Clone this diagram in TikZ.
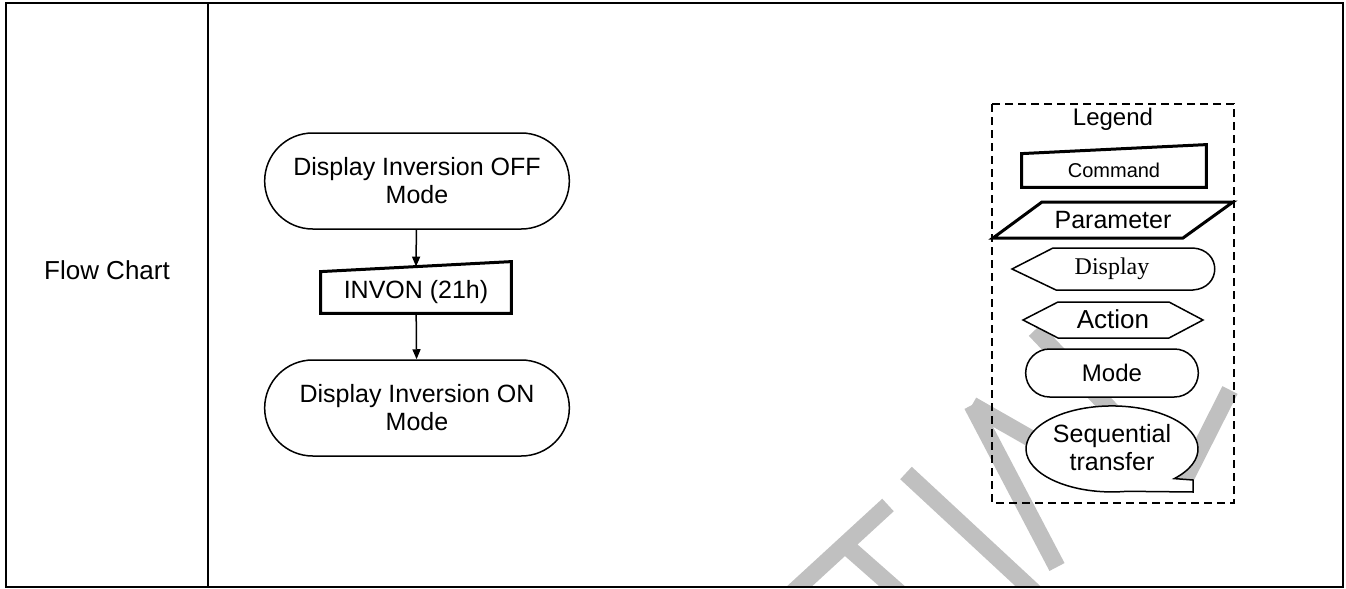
\documentclass[tikz,border=0pt]{standalone}
\usepackage{fontspec}
\setmainfont{Liberation Sans}
\newfontfamily\dispfont{Liberation Serif}
\usetikzlibrary{shapes.misc,arrows.meta}
\definecolor{wmgray}{RGB}{192,192,192}

\begin{document}
\begin{tikzpicture}
 [x=0.5pt, y=0.5pt,
  mode node/.style={rounded rectangle, draw, fill=white, line width=0.75pt, minimum width=159pt, minimum height=48pt, align=center, font=\fontsize{12.5}{14}\selectfont},
  text node/.style={inner sep=0pt, align=center, font=\fontsize{12.5}{14}\selectfont},
  bold line/.style={line width=1.5pt, line join=miter, fill=white},
  thin line/.style={line width=0.75pt, fill=white},
  arrow line/.style={-{Triangle[length=5pt,width=4pt]}, line width=0.75pt},
  wm line/.style={line width=8.5pt, draw=wmgray}]

\useasboundingbox (0,0) rectangle (1346,-589);

% watermark behind everything
\begin{scope}
  \clip (6,-3) rectangle (1343,-587);
  \draw[wm line] (790,-595) -- (888,-505);
  \draw[wm line] (843,-543) -- (910,-602);
  \draw[wm line] (906,-473) -- (1045,-602);
  \draw[wm line] (972,-405) -- (1057,-567);
  \draw[wm line] (972,-405) -- (1100,-478);
  \draw[wm line] (1035,-330) -- (1182,-485);
  \draw[wm line] (1182,-485) -- (1230,-390);
\end{scope}

% table frame
\draw[line width=1pt] (6,-3) rectangle (1343,-587);
\draw[line width=1pt] (208,-3) -- (208,-587);
\node[text node, font=\fontsize{13}{15}\selectfont] (title) at (107,-270) {Flow Chart};

% flow chart
\node[mode node] (off) at (417,-181) {Display Inversion OFF\\Mode};
\node[text node, minimum width=95pt, minimum height=20.5pt] (invon) at (416,-292.5) {};
\draw[bold line] (invon.south west) -- (invon.north west) -- ([yshift=5pt]invon.north east) -- (invon.south east) -- cycle;
\node[text node] (invontext) at (invon.center) {INVON (21h)};
\node[mode node] (on) at (417,-408) {Display Inversion ON\\Mode};

\path
  (off) edge[arrow line] ([yshift=2.5pt]invon.north)
  (invon) edge[arrow line] (on);

% legend
\draw[line width=0.75pt, dash pattern=on 4pt off 2.5pt] (992,-104) rectangle (1234,-503);
\node[text node, font=\fontsize{12}{14}\selectfont] (legend) at (1113,-119) {Legend};

\node[text node, minimum width=92pt, minimum height=16.5pt] (cmd) at (1114,-170.5) {};
\draw[bold line] (cmd.south west) -- (cmd.north west) -- ([yshift=4.5pt]cmd.north east) -- (cmd.south east) -- cycle;
\node[text node, font=\fontsize{10}{12}\selectfont] (cmdtext) at (cmd.center) {Command};

\draw[bold line] (993,-238) -- (1042,-202) -- (1233,-202) -- (1183,-238) -- cycle;
\node[text node] (param) at (1113,-220) {Parameter};

\draw[thin line] (1012,-269) -- (1053,-248) -- (1193,-248) .. controls (1222,-250) and (1222,-288) .. (1193,-290) -- (1056,-290) -- cycle;
\node[text node, font=\dispfont\fontsize{12}{14}\selectfont] (disp) at (1112,-269) {Display};

\draw[thin line] (1023,-320) -- (1058,-302) -- (1169,-302) -- (1203,-320) -- (1169,-338) -- (1058,-338) -- cycle;
\node[text node, font=\fontsize{13}{15}\selectfont] (act) at (1113,-319) {Action};

\node[mode node, minimum width=93pt, minimum height=24pt, font=\fontsize{12}{14}\selectfont] (mode) at (1112,-373) {Mode};

\draw[thin line] (1174.3,-478.6) arc[start angle=-43.6, end angle=280, x radius=86, y radius=43] -- (1193,-492) -- (1193,-480) -- cycle;
\node[text node] (seq) at (1112,-448) {Sequential\\transfer};

\end{tikzpicture}
\end{document}
